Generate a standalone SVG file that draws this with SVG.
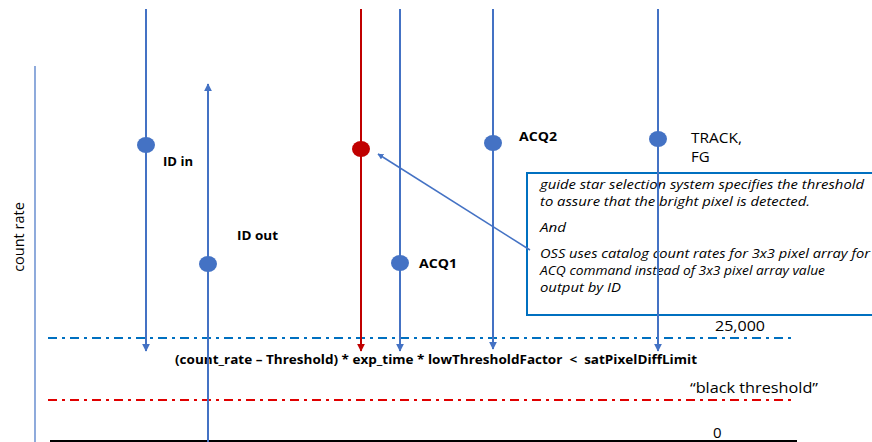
<svg xmlns="http://www.w3.org/2000/svg" width="872" height="442" viewBox="0 0 872 442">
<style>
.bl{stroke:#4472C4;stroke-width:2;fill:none}
.rd{stroke:#C00000;stroke-width:2;fill:none}
.t{font-family:"Open Sans","Liberation Sans",sans-serif;fill:#000}
.b{font-weight:bold;font-size:13px}
.n{font-size:15px}
.i{font-style:italic;font-size:13.5px}
</style>
<defs>
<marker id="ab" viewBox="0 0 10 10" refX="9" refY="5" markerWidth="4" markerHeight="4" orient="auto"><path d="M0,0L10,5L0,10z" fill="#4472C4"/></marker>
<marker id="ar" viewBox="0 0 10 10" refX="9" refY="5" markerWidth="4" markerHeight="4" orient="auto"><path d="M0,0L10,5L0,10z" fill="#C00000"/></marker>
</defs>
<rect width="872" height="442" fill="#fff"/>
<g id="axis">
<line x1="35" y1="66" x2="35" y2="442" stroke="#4472C4" stroke-width="1.2"/>
<text class="t" font-size="14.5" transform="translate(24,237) rotate(-90)" text-anchor="middle">count rate</text>
</g>
<g id="levels">
<line x1="48" y1="338" x2="795" y2="338" stroke="#0070C0" stroke-width="2" stroke-dasharray="9 5 3 5"/>
<line x1="48" y1="400" x2="795" y2="400" stroke="#E00000" stroke-width="2" stroke-dasharray="9 5 3 5"/>
<line x1="50" y1="441" x2="797" y2="441" stroke="#000" stroke-width="2"/>
<text class="t n" x="715" y="331" textLength="50" lengthAdjust="spacingAndGlyphs">25,000</text>
<text class="t n" x="690" y="393" textLength="128" lengthAdjust="spacingAndGlyphs">“black threshold”</text>
<text class="t n" x="713" y="438">0</text>
<text class="t b" x="175" y="364" textLength="522" lengthAdjust="spacingAndGlyphs">(count_rate – Threshold) * exp_time * lowThresholdFactor &#160;&lt; &#160;satPixelDiffLimit</text>
</g>
<g id="note">
<rect x="527" y="173" width="350" height="142" fill="#fff" stroke="#0070C0" stroke-width="2"/>
<text class="t i" x="540" y="189" textLength="324" lengthAdjust="spacingAndGlyphs">guide star selection system specifies the threshold</text>
<text class="t i" x="540" y="206" textLength="270" lengthAdjust="spacingAndGlyphs">to assure that the bright pixel is detected.</text>
<text class="t i" x="540" y="232" textLength="26" lengthAdjust="spacingAndGlyphs">And</text>
<text class="t i" x="540" y="258" textLength="330" lengthAdjust="spacingAndGlyphs">OSS uses catalog count rates for 3x3 pixel array for</text>
<text class="t i" x="540" y="275" textLength="285" lengthAdjust="spacingAndGlyphs">ACQ command instead of 3x3 pixel array value</text>
<text class="t i" x="540" y="292" textLength="81" lengthAdjust="spacingAndGlyphs">output by ID</text>
</g>
<g id="connectors">
<line class="bl" x1="146" y1="9" x2="146" y2="351" marker-end="url(#ab)"/>
<line class="bl" x1="208" y1="442" x2="208" y2="84" marker-end="url(#ab)"/>
<line class="rd" x1="361" y1="9" x2="361" y2="351" marker-end="url(#ar)"/>
<line class="bl" x1="400" y1="9" x2="400" y2="351" marker-end="url(#ab)"/>
<line class="bl" x1="493" y1="9" x2="493" y2="349" marker-end="url(#ab)"/>
<line class="bl" x1="658" y1="9" x2="658" y2="351" marker-end="url(#ab)"/>
<line x1="530" y1="250" x2="378" y2="154" stroke="#4472C4" stroke-width="1.5" marker-end="url(#ab)"/>
</g>
<g id="id-in"><ellipse cx="146" cy="145" rx="9" ry="8" fill="#4472C4"/><text class="t b" x="163" y="166" textLength="30" lengthAdjust="spacingAndGlyphs">ID in</text></g>
<g id="id-out"><ellipse cx="208" cy="264" rx="9" ry="8" fill="#4472C4"/><text class="t b" x="237" y="240" textLength="41" lengthAdjust="spacingAndGlyphs">ID out</text></g>
<g id="bright"><ellipse cx="361" cy="149" rx="9" ry="8" fill="#C00000"/></g>
<g id="acq1"><ellipse cx="400" cy="263" rx="9" ry="8" fill="#4472C4"/><text class="t b" x="419" y="268" textLength="38" lengthAdjust="spacingAndGlyphs">ACQ1</text></g>
<g id="acq2"><ellipse cx="493" cy="143" rx="9" ry="8" fill="#4472C4"/><text class="t b" x="519" y="141" textLength="38" lengthAdjust="spacingAndGlyphs">ACQ2</text></g>
<g id="track"><ellipse cx="658" cy="139" rx="9" ry="8" fill="#4472C4"/><text class="t n" x="691" y="143" textLength="51" lengthAdjust="spacingAndGlyphs">TRACK,</text><text class="t n" x="691" y="162">FG</text></g>
</svg>
